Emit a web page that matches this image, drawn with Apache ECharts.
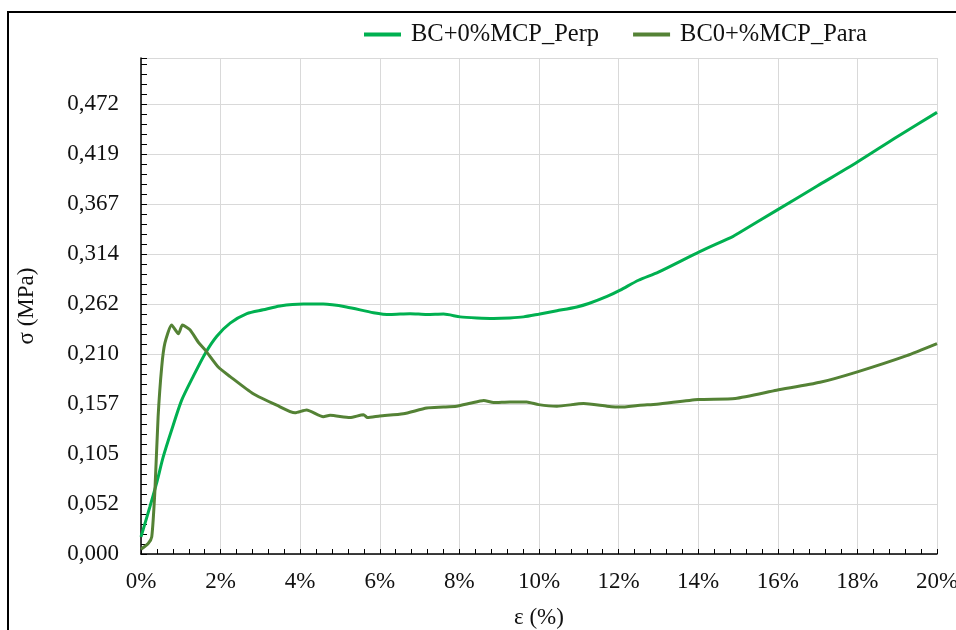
<!DOCTYPE html>
<html>
<head>
<meta charset="utf-8">
<script src="https://cdn.jsdelivr.net/npm/echarts@6/dist/echarts.min.js"></script>
<style>
html,body{margin:0;padding:0;background:#fff;}
#chart{width:956px;height:630px;}
</style>
</head>
<body>
<div id="chart"></div>
<script>
// ---- data (strain in %, stress in MPa) ----
const seriesNames = ['BC+0%MCP_Perp', 'BC0+%MCP_Para'];
const perpStrain = [0, 0.22, 0.39, 0.56, 0.77, 1.02, 1.31, 1.61, 1.90, 2.24, 2.66, 3.07, 3.49, 4.08, 4.58, 5.16, 5.84, 6.26, 6.76, 7.18, 7.6, 8.02, 8.44, 8.86, 9.27, 9.61, 9.99, 10.45, 10.95, 11.25, 11.71, 12.04, 12.5, 13.0, 14.04, 14.88, 15.0, 16.0, 17.0, 18.0, 19.0, 20.0];
const perpStress = [0.018, 0.049, 0.074, 0.102, 0.130, 0.161, 0.186, 0.210, 0.228, 0.242, 0.252, 0.256, 0.260, 0.262, 0.262, 0.259, 0.253, 0.251, 0.252, 0.251, 0.2515, 0.2486, 0.2475, 0.247, 0.2475, 0.2486, 0.2514, 0.255, 0.259, 0.2626, 0.270, 0.2766, 0.287, 0.2955, 0.317, 0.333, 0.336, 0.361, 0.386, 0.411, 0.4375, 0.463];
const paraStrain = [0, 0.18, 0.27, 0.35, 0.43, 0.52, 0.60, 0.77, 0.94, 1.04, 1.23, 1.44, 1.61, 1.94, 2.24, 2.82, 3.41, 3.87, 4.16, 4.58, 4.75, 5.25, 5.59, 5.69, 6.0, 6.59, 7.18, 7.6, 7.93, 8.27, 8.61, 8.86, 9.27, 9.69, 9.99, 10.45, 11.12, 11.71, 12.04, 12.54, 12.96, 14.0, 14.93, 15.97, 17.06, 18.0, 19.24, 20.0];
const paraStress = [0.005, 0.011, 0.018, 0.067, 0.144, 0.196, 0.221, 0.240, 0.231, 0.240, 0.235, 0.222, 0.214, 0.196, 0.186, 0.168, 0.156, 0.148, 0.151, 0.144, 0.1454, 0.143, 0.146, 0.143, 0.1447, 0.147, 0.153, 0.154, 0.155, 0.158, 0.161, 0.1587, 0.1594, 0.1594, 0.1566, 0.155, 0.1577, 0.155, 0.154, 0.156, 0.157, 0.162, 0.163, 0.1716, 0.180, 0.191, 0.208, 0.2206];
const xTickLabels = ['0%', '2%', '4%', '6%', '8%', '10%', '12%', '14%', '16%', '18%', '20%'];
const yTickLabels = ['0,000', '0,052', '0,105', '0,157', '0,210', '0,262', '0,314', '0,367', '0,419', '0,472'];
const yStep = 0.0524;
const xStep = 2;

const perpData = perpStrain.map((x, i) => [x, perpStress[i]]);
const paraData = paraStrain.map((x, i) => [x, paraStress[i]]);

const FONT = '"Liberation Serif", "Times New Roman", serif';
const chart = echarts.init(document.getElementById('chart'), null, {renderer: 'canvas'});
chart.setOption({
  backgroundColor: '#fff',
  animation: false,
  graphic: [{
    type: 'rect', silent: true,
    shape: {x: 8, y: 12, width: 1000, height: 1000},
    style: {fill: 'none', stroke: '#000', lineWidth: 2}
  }],
  legend: {
    left: 359, top: 17,
    itemWidth: 37, itemHeight: 4, itemGap: 34,
    icon: 'rect',
    textStyle: {fontFamily: FONT, fontSize: 24.5, color: '#111', padding: [0, 0, 0, 5]},
    data: seriesNames
  },
  grid: {left: 141, right: 19, top: 58, bottom: 76, containLabel: false, outerBoundsMode: 'none'},
  xAxis: {
    type: 'value', min: 0, max: 20, interval: xStep,
    name: 'ε (%)', nameLocation: 'middle', nameGap: 52,
    nameTextStyle: {fontFamily: FONT, fontSize: 23, color: '#111'},
    axisLine: {show: true, lineStyle: {color: '#000', width: 1.5}},
    axisTick: {show: true, inside: true, length: 5, lineStyle: {color: '#000'}},
    minorTick: {show: true, splitNumber: 5, length: 5, lineStyle: {color: '#000'}},
    axisLabel: {
      margin: 16, fontFamily: FONT, fontSize: 23, color: '#111',
      formatter: v => xTickLabels[Math.round(v / xStep)] || ''
    },
    splitLine: {show: true, lineStyle: {color: '#d9d9d9', width: 1}}
  },
  yAxis: {
    type: 'value', min: 0, max: 0.52, interval: yStep,
    name: 'σ (MPa)', nameLocation: 'middle', nameGap: 103,
    nameTextStyle: {fontFamily: FONT, fontSize: 23, color: '#111'},
    axisLine: {show: true, lineStyle: {color: '#000', width: 1.5}},
    axisTick: {show: true, inside: true, length: 6, lineStyle: {color: '#000'}},
    minorTick: {show: true, splitNumber: 5, length: 6, lineStyle: {color: '#000'}},
    axisLabel: {
      margin: 22, fontFamily: FONT, fontSize: 23, color: '#111',
      formatter: v => (v > 0.5 ? '' : (yTickLabels[Math.round(v / yStep)] || ''))
    },
    splitLine: {show: true, lineStyle: {color: '#d9d9d9', width: 1}}
  },
  series: [
    {
      name: seriesNames[0], type: 'line', data: perpData,
      showSymbol: false, smooth: 0.25,
      color: '#00b050', lineStyle: {width: 3, color: '#00b050'}
    },
    {
      name: seriesNames[1], type: 'line', data: paraData,
      showSymbol: false, smooth: 0.2,
      color: '#548235', lineStyle: {width: 3, color: '#548235'}
    }
  ]
});
</script>
</body>
</html>
